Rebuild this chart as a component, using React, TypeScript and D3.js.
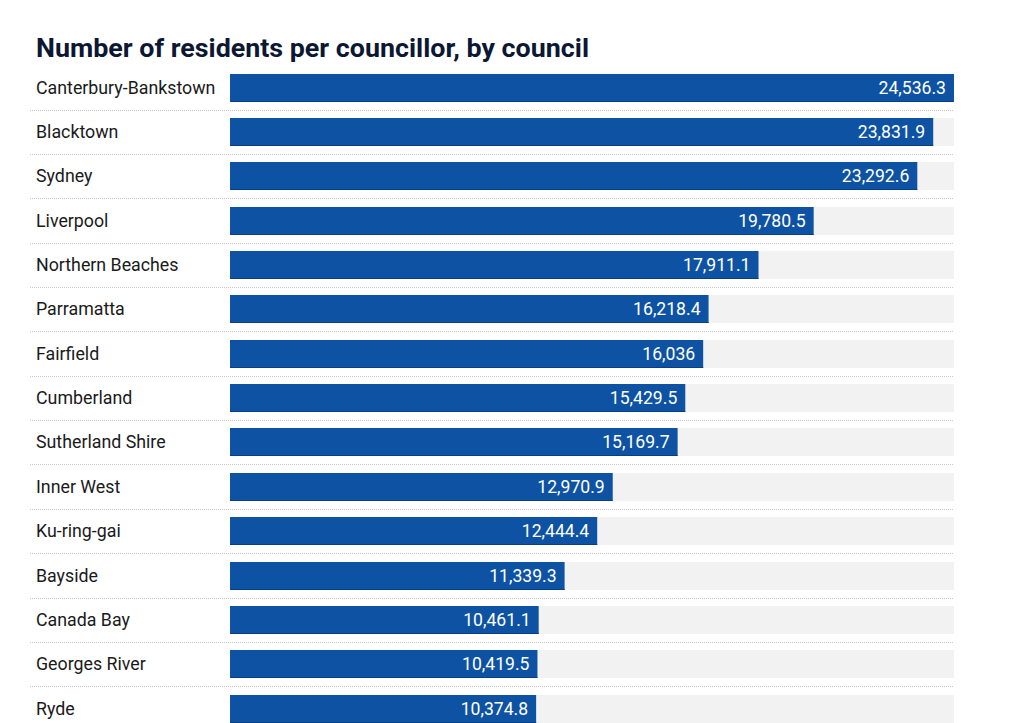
import React from "react";
import * as d3 from "d3";

const councils = [
  "Canterbury-Bankstown",
  "Blacktown",
  "Sydney",
  "Liverpool",
  "Northern Beaches",
  "Parramatta",
  "Fairfield",
  "Cumberland",
  "Sutherland Shire",
  "Inner West",
  "Ku-ring-gai",
  "Bayside",
  "Canada Bay",
  "Georges River",
  "Ryde",
];
const residentsPerCouncillor = [
  24536.3, 23831.9, 23292.6, 19780.5, 17911.1, 16218.4, 16036, 15429.5, 15169.7,
  12970.9, 12444.4, 11339.3, 10461.1, 10419.5, 10374.8,
];
const title = "Number of residents per councillor, by council";

const W = 1024;
const H = 723;
const barLeft = 230;
const barRight = 954;
const sepLeft = 30;
const rowTop = 65.6;
const rowStep = 44.36;
const barH = 28;

const fmt = (v: number) => d3.format(",")(v);

export default function App() {
  const x = d3
    .scaleLinear()
    .domain([0, d3.max(residentsPerCouncillor) as number])
    .range([barLeft, barRight]);
  const y = d3
    .scaleBand<string>()
    .domain(councils)
    .range([rowTop, rowTop + councils.length * rowStep])
    .padding(0);
  const font = "Roboto, 'Noto Sans', sans-serif";
  return (
    <svg
      width={W}
      height={H}
      style={{ position: "absolute", left: 0, top: 0, background: "#fff" }}
    >
      <text
        x={36}
        y={57}
        fontFamily={font}
        fontWeight={700}
        fontSize={26}
        fill="#0b1733"
        textLength={553}
        lengthAdjust="spacingAndGlyphs"
      >
        {title}
      </text>
      {councils.map((c, i) => {
        const v = residentsPerCouncillor[i];
        const y0 = Math.round((y(c) as number) + 8);
        const cy = y0 + barH / 2;
        return (
          <g key={c}>
            <rect x={barLeft} y={y0} width={barRight - barLeft} height={barH} fill="#f2f2f2" />
            <rect x={barLeft} y={y0} width={x(v) - barLeft} height={barH} fill="#0e53a3" />
            <rect x={barLeft} y={y0 + barH - 1} width={x(v) - barLeft} height={1} fill="#0a3f86" />
            <text
              x={36}
              y={cy}
              dy="0.35em"
              fontFamily={font}
              fontSize={17.8}
              fill="#1a1a1a"
            >
              {c}
            </text>
            <text
              x={x(v) - 8}
              y={cy}
              dy="0.35em"
              textAnchor="end"
              fontFamily={font}
              fontSize={17.6}
              fill="#ffffff"
            >
              {fmt(v)}
            </text>
            <line
              x1={sepLeft}
              x2={barRight}
              y1={y0 + barH + 8.5}
              y2={y0 + barH + 8.5}
              stroke="#c8c8c8"
              strokeWidth={1}
              strokeDasharray="1,1"
            />
          </g>
        );
      })}
    </svg>
  );
}
